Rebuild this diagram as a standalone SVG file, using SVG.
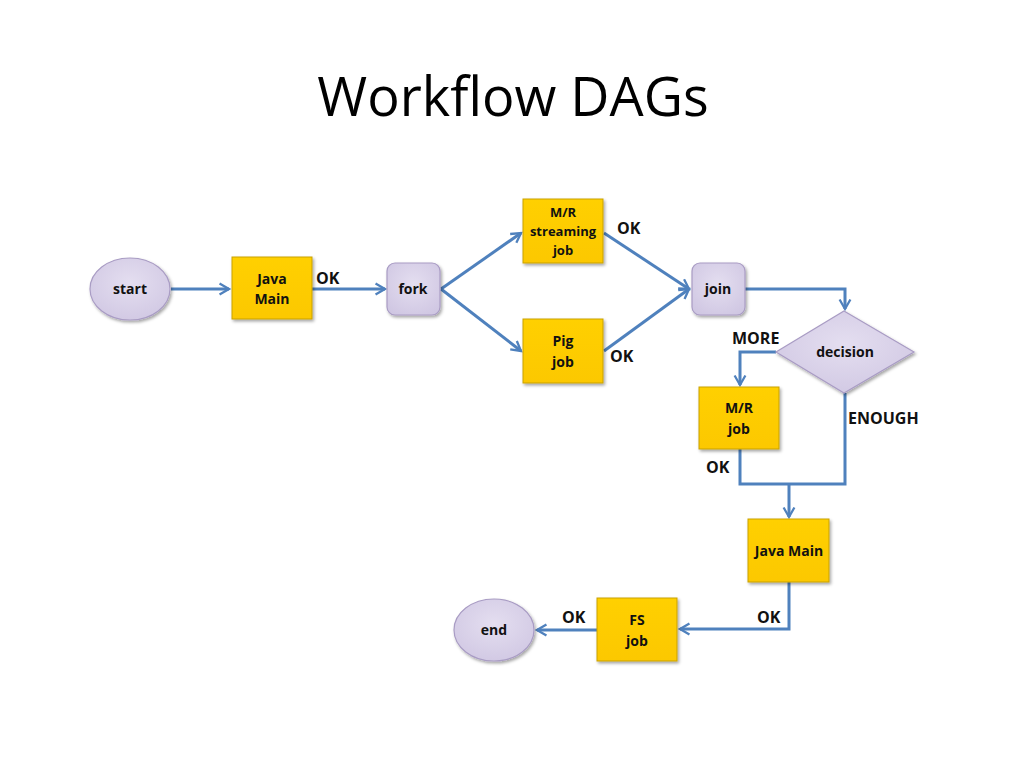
<svg xmlns="http://www.w3.org/2000/svg" width="1024" height="768" viewBox="0 0 1024 768">
<defs>
<linearGradient id="gy" x1="0" y1="0" x2="0" y2="1"><stop offset="0" stop-color="#FFD000"/><stop offset="1" stop-color="#FCC800"/></linearGradient>
<radialGradient id="gl" cx="0.5" cy="0.4" r="0.7"><stop offset="0" stop-color="#E4DEF0"/><stop offset="1" stop-color="#CFC6E2"/></radialGradient>
<filter id="sh" x="-20%" y="-20%" width="150%" height="150%"><feDropShadow dx="1.5" dy="2" stdDeviation="1.5" flood-color="#000" flood-opacity="0.35"/></filter>
<marker id="ah" viewBox="0 0 10 10" refX="8" refY="5" markerWidth="4.5" markerHeight="4.5" orient="auto" markerUnits="strokeWidth"><path d="M1,1 L8,5 L1,9" fill="none" stroke="#4F81BD" stroke-width="1.7"/></marker>
<style>
.y{fill:url(#gy);stroke:#C9A100;stroke-width:1;filter:url(#sh)}
.l{fill:url(#gl);stroke:#A99CC4;stroke-width:1.2;filter:url(#sh)}
.t{font-family:"Open Sans","Liberation Sans",sans-serif;font-weight:bold;font-size:14px;fill:#111;text-anchor:middle}
.k{font-family:"Open Sans","Liberation Sans",sans-serif;font-weight:bold;font-size:16px;fill:#111}
.c{fill:none;stroke:#4F81BD;stroke-width:3;marker-end:url(#ah)}
.n{fill:none;stroke:#4F81BD;stroke-width:3}
</style>
</defs>
<rect width="1024" height="768" fill="#fff"/>
<text x="513" y="116" font-family="Open Sans, Liberation Sans, sans-serif" font-size="54" fill="#000" text-anchor="middle">Workflow DAGs</text>

<g id="connectors">
<line class="c" x1="171" y1="289" x2="229" y2="289"/>
<line class="c" x1="312" y1="289" x2="385" y2="289"/>
<line class="c" x1="441" y1="289" x2="521" y2="233"/>
<line class="c" x1="441" y1="289" x2="521" y2="351"/>
<line class="c" x1="604" y1="233" x2="689" y2="289"/>
<line class="c" x1="604" y1="351" x2="689" y2="289"/>
<polyline class="c" points="745,289 845,289 845,309"/>
<polyline class="c" points="776,352 740,352 740,385"/>
<polyline class="n" points="740,449 740,484 845,484 845,393"/>
<line class="c" x1="789" y1="484" x2="789" y2="517"/>
<polyline class="c" points="789,582 789,629 680,629"/>
<line class="c" x1="597" y1="630" x2="537" y2="630"/>
</g>

<g id="start"><ellipse class="l" cx="130" cy="289" rx="40" ry="31"/><text class="t" x="130" y="294">start</text></g>
<g id="javamain1"><rect class="y" x="232" y="257" width="80" height="62"/><text class="t" x="272" y="284">Java</text><text class="t" x="272" y="304">Main</text></g>
<g id="fork"><rect class="l" x="387" y="263" width="53" height="52" rx="8"/><text class="t" x="413" y="294">fork</text></g>
<g id="mrstreaming"><rect class="y" x="523" y="199" width="80" height="64"/><text class="t" x="563" y="217" style="font-size:13px">M/R</text><text class="t" x="563" y="236" style="font-size:13px">streaming</text><text class="t" x="563" y="255" style="font-size:13px">job</text></g>
<g id="pig"><rect class="y" x="523" y="319" width="80" height="64"/><text class="t" x="563" y="346">Pig</text><text class="t" x="563" y="367">job</text></g>
<g id="join"><rect class="l" x="692" y="263" width="53" height="52" rx="8"/><text class="t" x="718" y="294">join</text></g>
<g id="decision"><polygon class="l" points="844,311 914,352 844,393 776,352"/><text class="t" x="845" y="357">decision</text></g>
<g id="mrjob"><rect class="y" x="699" y="387" width="80" height="62"/><text class="t" x="739" y="413">M/R</text><text class="t" x="739" y="434">job</text></g>
<g id="javamain2"><rect class="y" x="748" y="519" width="81" height="63"/><text class="t" x="789" y="556">Java Main</text></g>
<g id="fsjob"><rect class="y" x="597" y="598" width="80" height="63"/><text class="t" x="637" y="625">FS</text><text class="t" x="637" y="646">job</text></g>
<g id="end"><ellipse class="l" cx="494" cy="630" rx="40" ry="31"/><text class="t" x="494" y="635">end</text></g>

<g id="labels">
<text class="k" x="316" y="284">OK</text>
<text class="k" x="617" y="234">OK</text>
<text class="k" x="610" y="362">OK</text>
<text class="k" x="732" y="344">MORE</text>
<text class="k" x="848" y="424">ENOUGH</text>
<text class="k" x="706" y="473">OK</text>
<text class="k" x="562" y="623">OK</text>
<text class="k" x="757" y="623">OK</text>
</g>
</svg>
